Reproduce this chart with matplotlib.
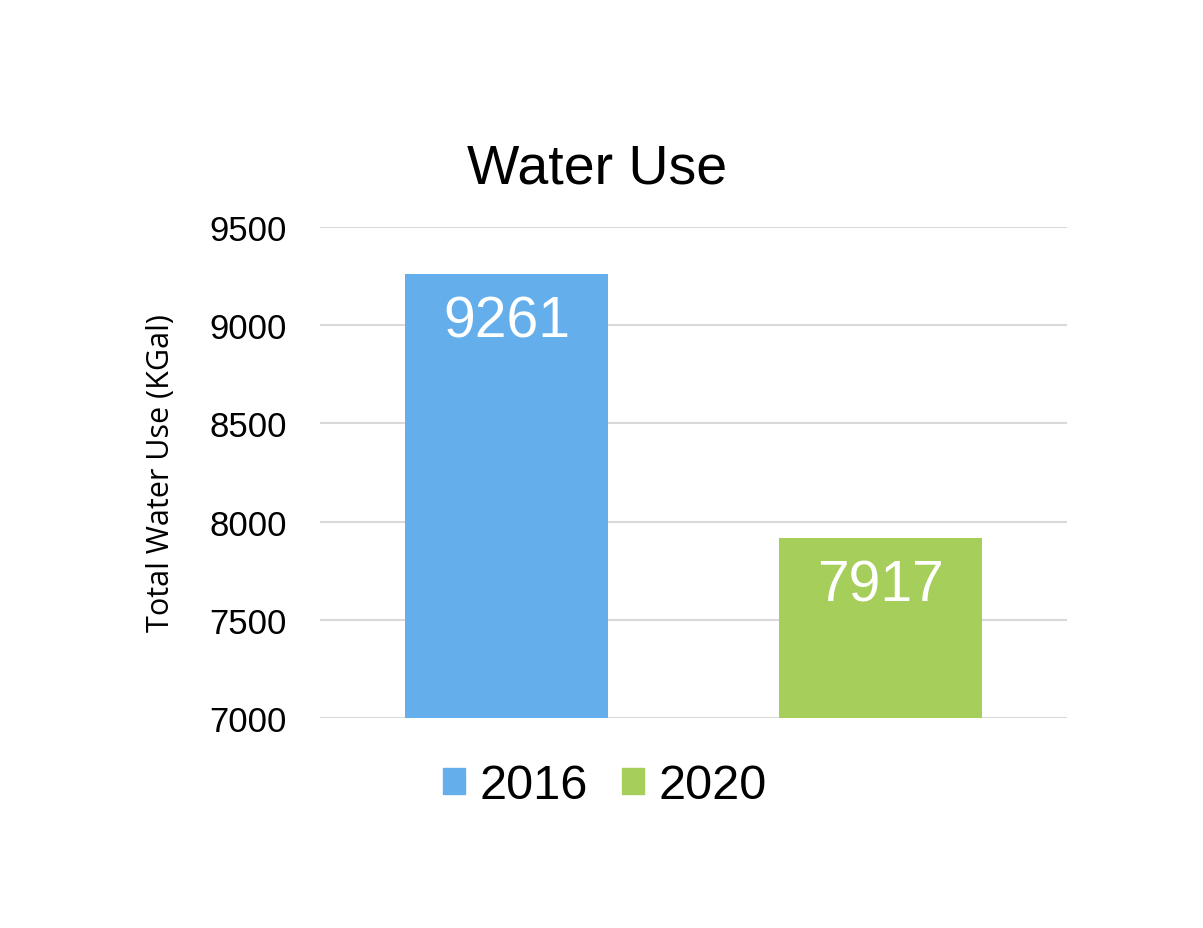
import matplotlib.pyplot as plt
from matplotlib.patches import Patch

years = ["2016", "2020"]
water_use = [9261, 7917]
colors = ["#63aeeb", "#a5ce5b"]
yticks = [7000, 7500, 8000, 8500, 9000, 9500]

fig = plt.figure(figsize=(12.03, 9.29), dpi=100)
ax = fig.add_axes([0.266, 0.226, 0.621, 0.5286])

for i, (yr, v) in enumerate(zip(years, water_use)):
    ax.bar(i, v - 7000, bottom=7000, width=0.544, color=colors[i], zorder=3, label=yr)
    ax.text(i, v - 240, str(v), ha="center", va="center", color="white",
            fontsize=41, family="Liberation Sans", zorder=4)

ax.set_xlim(-0.5, 1.5)
ax.set_ylim(7000, 9500)
ax.set_yticks(yticks)
ax.set_yticklabels([str(t) for t in yticks], fontsize=25, family="Liberation Sans")
ax.set_xticks([])
ax.tick_params(axis="y", length=0, pad=24)
ax.grid(axis="y", color="#d9d9d9", linewidth=1.5, zorder=0)
for s in ax.spines.values():
    s.set_visible(False)

ax.set_ylabel("Total Water Use (KGal)", fontsize=22, family="Open Sans", labelpad=24)
fig.text(0.496, 0.818, "Water Use", ha="center", va="center", fontsize=40,
         family="Liberation Sans")

handles = [Patch(color=c, label=y) for c, y in zip(colors, years)]
fig.legend(handles=handles, loc="center", bbox_to_anchor=(0.503, 0.153), ncol=2,
           frameon=False, prop={"family": "Liberation Sans", "size": 35},
           handlelength=0.45, handleheight=0.45, handletextpad=0.3, columnspacing=0.7)

fig.savefig("out.png", dpi=100, facecolor="white")
